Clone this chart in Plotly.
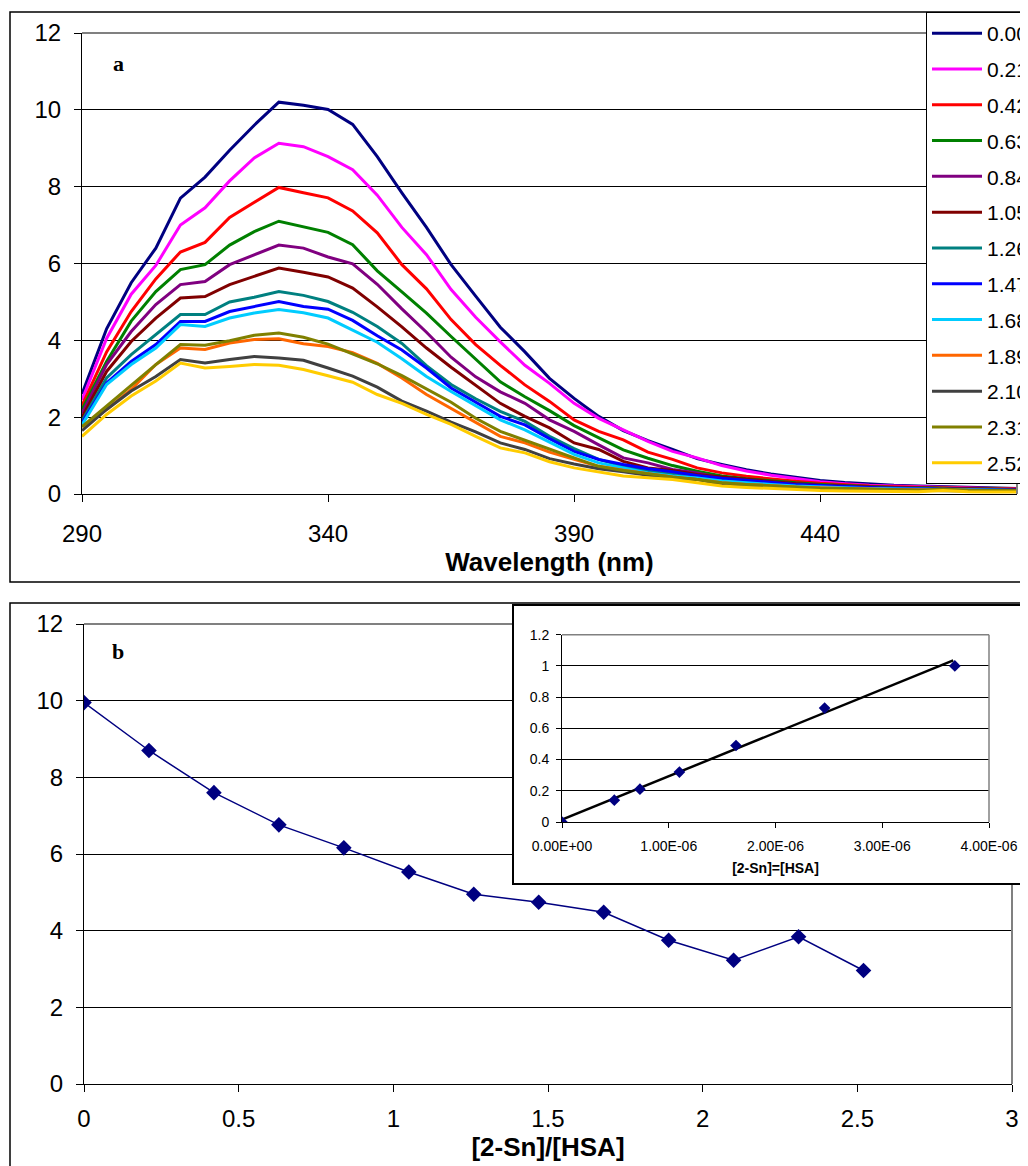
import plotly.graph_objects as go

# ---------------- data ----------------
wavelength = [290, 295, 300, 305, 310, 315, 320, 325, 330, 335, 340, 345, 350, 355,
              360, 365, 370, 375, 380, 385, 390, 395, 400, 405, 410, 415, 420,
              425, 430, 435, 440, 445, 450, 455, 460, 465, 470, 475, 480]

ratio_labels = ["0.00", "0.21", "0.42", "0.63", "0.84", "1.05", "1.26",
                "1.47", "1.68", "1.89", "2.10", "2.31", "2.52"]
series_colors = ["#000080", "#FF00FF", "#FF0000", "#008000", "#800080", "#800000",
                 "#008080", "#0000FF", "#00CCFF", "#FF6600", "#404040", "#808000", "#FFCC00"]

s000 = [2.6, 4.3, 5.5, 6.4, 7.7, 8.25, 8.95, 9.6, 10.2, 10.12, 10.01, 9.62, 8.78, 7.84,
        6.94, 5.97, 5.15, 4.34, 3.70, 3.01, 2.49, 2.02, 1.65, 1.39, 1.16, 0.92, 0.77,
        0.63, 0.52, 0.43, 0.35, 0.30, 0.26, 0.23, 0.21, 0.19, 0.17, 0.15, 0.14]
s021 = [2.45, 4.05, 5.2, 5.95, 7.0, 7.45, 8.15, 8.75, 9.13, 9.04, 8.78, 8.44, 7.78, 6.94,
        6.23, 5.32, 4.6, 3.96, 3.35, 2.88, 2.36, 1.97, 1.67, 1.37, 1.11, 0.94, 0.74,
        0.60, 0.49, 0.40, 0.32, 0.27, 0.23, 0.21, 0.19, 0.17, 0.15, 0.14, 0.13]
s042 = [2.3, 3.7, 4.75, 5.6, 6.3, 6.55, 7.2, 7.6, 7.98, 7.84, 7.71, 7.37, 6.80, 5.97,
        5.34, 4.54, 3.89, 3.35, 2.84, 2.41, 1.93, 1.63, 1.41, 1.09, 0.90, 0.68, 0.55,
        0.46, 0.39, 0.33, 0.28, 0.24, 0.21, 0.19, 0.17, 0.16, 0.15, 0.14, 0.13]
s063 = [2.2, 3.45, 4.5, 5.27, 5.84, 5.97, 6.48, 6.83, 7.1, 6.96, 6.81, 6.49, 5.81, 5.26,
        4.71, 4.10, 3.5, 2.92, 2.53, 2.17, 1.78, 1.46, 1.15, 0.93, 0.74, 0.59, 0.47,
        0.40, 0.34, 0.29, 0.25, 0.22, 0.19, 0.17, 0.16, 0.15, 0.14, 0.13, 0.12]
s084 = [2.1, 3.37, 4.23, 4.93, 5.45, 5.53, 5.97, 6.23, 6.48, 6.40, 6.17, 5.99, 5.46, 4.82,
        4.21, 3.56, 3.05, 2.66, 2.36, 1.93, 1.63, 1.28, 0.94, 0.81, 0.64, 0.55, 0.42,
        0.36, 0.31, 0.27, 0.23, 0.20, 0.18, 0.16, 0.15, 0.14, 0.13, 0.12, 0.11]
s105 = [2.0, 3.19, 3.97, 4.58, 5.10, 5.14, 5.45, 5.66, 5.88, 5.77, 5.65, 5.36, 4.87, 4.35,
        3.80, 3.30, 2.82, 2.36, 2.02, 1.72, 1.33, 1.16, 0.85, 0.68, 0.61, 0.51, 0.44,
        0.38, 0.32, 0.27, 0.23, 0.20, 0.18, 0.16, 0.15, 0.14, 0.13, 0.12, 0.11]
s126 = [1.9, 3.02, 3.63, 4.15, 4.67, 4.67, 5.0, 5.12, 5.27, 5.17, 5.01, 4.73, 4.36, 3.92,
        3.34, 2.85, 2.48, 2.15, 1.89, 1.50, 1.18, 0.90, 0.72, 0.59, 0.51, 0.44, 0.38,
        0.33, 0.28, 0.24, 0.21, 0.18, 0.16, 0.15, 0.14, 0.13, 0.12, 0.11, 0.10]
s147 = [1.85, 2.89, 3.45, 3.89, 4.49, 4.49, 4.75, 4.88, 5.01, 4.88, 4.81, 4.52, 4.12, 3.75,
        3.28, 2.76, 2.40, 2.02, 1.80, 1.44, 1.11, 0.90, 0.77, 0.66, 0.58, 0.48, 0.41,
        0.35, 0.30, 0.25, 0.22, 0.19, 0.17, 0.15, 0.14, 0.13, 0.12, 0.11, 0.10]
s168 = [1.8, 2.85, 3.37, 3.80, 4.41, 4.36, 4.58, 4.71, 4.80, 4.72, 4.58, 4.27, 3.95, 3.52,
        3.06, 2.67, 2.29, 1.93, 1.67, 1.35, 1.03, 0.81, 0.68, 0.55, 0.47, 0.42, 0.34,
        0.29, 0.25, 0.21, 0.18, 0.16, 0.14, 0.13, 0.12, 0.11, 0.10, 0.10, 0.09]
s189 = [1.75, 2.2, 2.72, 3.37, 3.80, 3.76, 3.93, 4.02, 4.04, 3.91, 3.84, 3.68, 3.40, 3.02,
        2.59, 2.22, 1.87, 1.50, 1.33, 1.09, 0.90, 0.72, 0.62, 0.53, 0.44, 0.38, 0.29,
        0.25, 0.21, 0.18, 0.16, 0.14, 0.13, 0.12, 0.11, 0.10, 0.10, 0.09, 0.09]
s210 = [1.65, 2.2, 2.68, 3.06, 3.5, 3.41, 3.50, 3.58, 3.54, 3.48, 3.28, 3.07, 2.78, 2.42,
        2.16, 1.87, 1.62, 1.33, 1.16, 0.92, 0.78, 0.66, 0.58, 0.49, 0.42, 0.38, 0.25,
        0.21, 0.18, 0.15, 0.13, 0.12, 0.11, 0.10, 0.09, 0.09, 0.08, 0.08, 0.08]
s231 = [1.75, 2.29, 2.85, 3.37, 3.89, 3.87, 3.99, 4.13, 4.19, 4.08, 3.90, 3.65, 3.39, 3.08,
        2.73, 2.39, 1.97, 1.63, 1.40, 1.16, 0.94, 0.72, 0.61, 0.53, 0.44, 0.38, 0.29,
        0.25, 0.21, 0.18, 0.15, 0.14, 0.12, 0.11, 0.10, 0.13, 0.10, 0.09, 0.09]
s252 = [1.5, 2.07, 2.55, 2.94, 3.41, 3.28, 3.32, 3.37, 3.35, 3.24, 3.08, 2.91, 2.59, 2.36,
        2.07, 1.81, 1.5, 1.20, 1.07, 0.84, 0.68, 0.58, 0.47, 0.42, 0.38, 0.29, 0.21,
        0.17, 0.14, 0.11, 0.09, 0.08, 0.07, 0.06, 0.06, 0.09, 0.06, 0.05, 0.05]
spectra = [s000, s021, s042, s063, s084, s105, s126, s147, s168, s189, s210, s231, s252]

# panel b
ratio = [0.0, 0.21, 0.42, 0.63, 0.84, 1.05, 1.26, 1.47, 1.68, 1.89, 2.10, 2.31, 2.52]
fluor_max = [9.95, 8.7, 7.6, 6.76, 6.16, 5.53, 4.95, 4.74, 4.48, 3.75, 3.23, 3.84, 2.96]
ratio_ticks = [0, 0.5, 1, 1.5, 2, 2.5, 3]
ratio_ticktext = ["0", "0.5", "1", "1.5", "2", "2.5", "3"]
wl_ticks = [290, 340, 390, 440]
intensity_ticks = [0, 2, 4, 6, 8, 10, 12]

# inset
conc = [0.0, 0.49e-6, 0.73e-6, 1.10e-6, 1.63e-6, 2.46e-6, 3.68e-6]
inset_y = [0.0, 0.14, 0.21, 0.32, 0.49, 0.73, 1.0]
fit_x = [0.0, 3.665e-6]
fit_y = [0.015, 1.035]
conc_ticks = [0, 1e-6, 2e-6, 3e-6, 4e-6]
conc_ticktext = ["0.00E+00", "1.00E-06", "2.00E-06", "3.00E-06", "4.00E-06"]
inset_yticks = [0, 0.2, 0.4, 0.6, 0.8, 1.0, 1.2]
inset_yticktext = ["0", "0.2", "0.4", "0.6", "0.8", "1", "1.2"]

# ---------------- layout helpers ----------------
W, H = 1028, 1166
OFF = 8  # page body margin


def px(x):
    return (x - OFF) / W


def py(y):
    return (H + OFF - y) / H


FONT = "Liberation Sans, Arial, sans-serif"
SERIF = "Liberation Serif, Times New Roman, serif"

fig = go.Figure()

for lab, col, vals in zip(ratio_labels, series_colors, spectra):
    fig.add_trace(go.Scatter(x=wavelength, y=vals, mode="lines", name=lab,
                             legendgroup=lab, line=dict(color=col, width=3),
                             xaxis="x", yaxis="y"))

fig.add_trace(go.Scatter(x=ratio, y=fluor_max, mode="lines+markers", showlegend=False,
                         line=dict(color="#000080", width=1.5),
                         marker=dict(symbol="diamond", size=12, color="#000080"),
                         xaxis="x2", yaxis="y2"))

# blank subplot that masks panel b behind the inset frame
fig.add_trace(go.Scatter(x=[None], y=[None], showlegend=False, hoverinfo="skip",
                         xaxis="x3", yaxis="y3"))

fig.add_trace(go.Scatter(x=fit_x, y=fit_y, mode="lines", showlegend=False,
                         line=dict(color="black", width=2.5), xaxis="x4", yaxis="y4"))
fig.add_trace(go.Scatter(x=conc, y=inset_y, mode="markers", showlegend=False,
                         marker=dict(symbol="diamond", size=9, color="#000080"),
                         xaxis="x4", yaxis="y4"))

axis_common = dict(showline=True, linecolor="black", linewidth=1, ticks="outside",
                   tickcolor="black", mirror=False, zeroline=False)

fig.update_layout(
    width=W, height=H,
    margin=dict(l=0, r=0, t=0, b=0, autoexpand=False),
    paper_bgcolor="white", plot_bgcolor="white",
    font=dict(family=FONT, color="black"),
    showlegend=True,
    legend=dict(x=px(926), y=py(12), xanchor="left", yanchor="top",
                bgcolor="white", bordercolor="black", borderwidth=1,
                font=dict(family=FONT, size=21, color="black"),
                tracegroupgap=5.5, traceorder="grouped", itemwidth=50),
    xaxis=dict(domain=[px(82), px(1017)], range=[290, 480], anchor="y",
               tickvals=wl_ticks, ticklen=7, showgrid=False, ticklabelstandoff=11,
               tickfont=dict(size=24, family=FONT),
               title=dict(text="<b>Wavelength (nm)</b>", font=dict(size=26, family=FONT),
                          standoff=4),
               **axis_common),
    yaxis=dict(domain=[py(494), py(33)], range=[0, 12], anchor="x",
               tickvals=intensity_ticks, ticklen=7, showgrid=True, ticklabelstandoff=8,
               gridcolor="black", gridwidth=1,
               tickfont=dict(size=24, family=FONT), **axis_common),
    xaxis2=dict(domain=[px(84), px(1012)], range=[0, 3], anchor="y2",
                tickvals=ratio_ticks, ticktext=ratio_ticktext, ticklen=7, showgrid=False,
                ticklabelstandoff=6,
                tickfont=dict(size=24, family=FONT),
                title=dict(text="<b>[2-Sn]/[HSA]</b>", font=dict(size=26, family=FONT),
                           standoff=6),
                **axis_common),
    yaxis2=dict(domain=[py(1084), py(624)], range=[0, 12], anchor="x2",
                tickvals=intensity_ticks, ticklen=7, showgrid=True, ticklabelstandoff=8,
                gridcolor="black", gridwidth=1,
                tickfont=dict(size=24, family=FONT), **axis_common),
    xaxis3=dict(domain=[px(513), 1.0], range=[0, 1], anchor="y3", visible=False),
    yaxis3=dict(domain=[py(884), py(605)], range=[0, 1], anchor="x3", visible=False),
    xaxis4=dict(domain=[px(562), px(989)], range=[0, 4e-6], anchor="y4",
                tickvals=conc_ticks, ticktext=conc_ticktext, ticklen=5, showgrid=False,
                ticklabelstandoff=6,
                tickfont=dict(size=14, family=FONT),
                title=dict(text="<b>[2-Sn]=[HSA]</b>", font=dict(size=14, family=FONT),
                           standoff=10),
                **axis_common),
    yaxis4=dict(domain=[py(822), py(634.7)], range=[0, 1.2], anchor="x4",
                tickvals=inset_yticks, ticktext=inset_yticktext, ticklen=5, showgrid=True,
                ticklabelstandoff=4, gridcolor="black", gridwidth=1,
                tickfont=dict(size=14, family=FONT), **axis_common),
)

GREY = "#808080"
shapes = [
    # outer frames
    dict(type="rect", xref="paper", yref="paper", x0=px(10), x1=1.05, y0=py(582), y1=py(12),
         line=dict(color="black", width=1.5), fillcolor="rgba(0,0,0,0)", layer="below"),
    dict(type="rect", xref="paper", yref="paper", x0=px(10), x1=1.05, y0=-0.05, y1=py(603),
         line=dict(color="black", width=1.5), fillcolor="rgba(0,0,0,0)", layer="below"),
    # grey plot-area edges (top / right)
    dict(type="line", xref="x domain", yref="y domain", x0=0, x1=1, y0=1, y1=1,
         line=dict(color=GREY, width=2), layer="above"),
    dict(type="line", xref="x domain", yref="y domain", x0=1, x1=1, y0=0, y1=1,
         line=dict(color=GREY, width=2), layer="above"),
    dict(type="line", xref="paper", yref="y2 domain", x0=px(84), x1=px(513), y0=1, y1=1,
         line=dict(color=GREY, width=2), layer="above"),
    dict(type="line", xref="x2 domain", yref="paper", x0=1, x1=1, y0=py(1084), y1=py(884),
         line=dict(color=GREY, width=2), layer="above"),
    dict(type="line", xref="x4 domain", yref="y4 domain", x0=0, x1=1, y0=1, y1=1,
         line=dict(color=GREY, width=1.5), layer="above"),
    dict(type="line", xref="x4 domain", yref="y4 domain", x0=1, x1=1, y0=0, y1=1,
         line=dict(color=GREY, width=1.5), layer="above"),
    # inset frame
    dict(type="rect", xref="paper", yref="paper", x0=px(513), x1=1.05, y0=py(884), y1=py(605),
         line=dict(color="black", width=2), fillcolor="rgba(0,0,0,0)", layer="above"),
]
fig.update_layout(shapes=shapes)

fig.add_annotation(text="<b>a</b>", xref="paper", yref="paper", x=px(118), y=py(64),
                   xanchor="center", yanchor="middle",
                   showarrow=False, font=dict(family=SERIF, size=22, color="black"))
fig.add_annotation(text="<b>b</b>", xref="paper", yref="paper", x=px(118), y=py(651),
                   xanchor="center", yanchor="middle",
                   showarrow=False, font=dict(family=SERIF, size=22, color="black"))

fig.write_html("out.html")
